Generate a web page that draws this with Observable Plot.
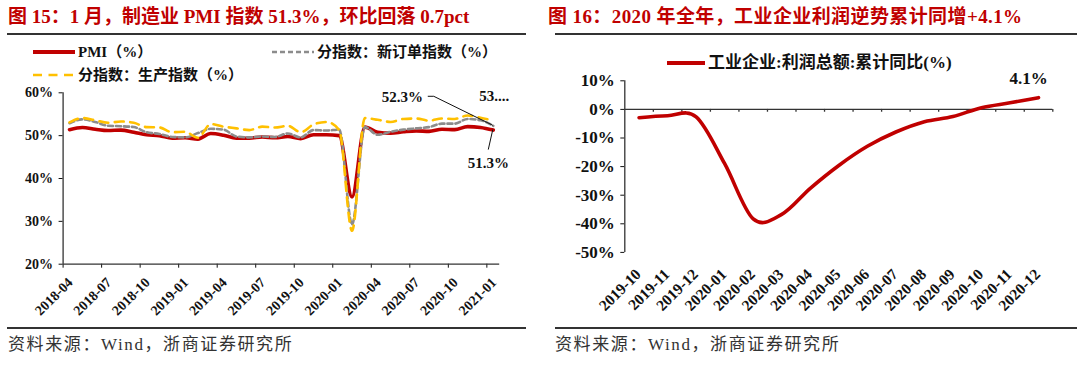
<!DOCTYPE html>
<html><head><meta charset="utf-8">
<script src="https://cdn.jsdelivr.net/npm/d3@7"></script>
<script src="https://cdn.jsdelivr.net/npm/@observablehq/plot@0.6"></script>
<style>
body{margin:0;background:#fff;width:1080px;height:367px;overflow:hidden;position:relative;font-family:"Liberation Serif","Noto Sans CJK SC",serif;}
.abs{position:absolute;white-space:nowrap;}
.title{font-size:19px;font-weight:bold;color:#C00000;line-height:20px;}
.rule{height:0;border-top:2px solid #333;}
.src{font-size:17px;color:#333;line-height:18px;letter-spacing:1.6px;}
.leg{font-size:15px;font-weight:bold;color:#111;display:flex;align-items:center;height:16px;line-height:16px;}
.leg svg{display:block;}
</style></head><body>
<div class="abs title" style="left:8px;top:7px;">图 15：1 月，制造业 PMI 指数 51.3%，环比回落 0.7pct</div>
<div class="abs title" style="left:548px;top:7px;letter-spacing:0.4px;">图 16：2020 年全年，工业企业利润逆势累计同增+4.1%</div>
<div class="abs rule" style="left:7px;top:33px;width:519px;"></div>
<div class="abs rule" style="left:555px;top:33px;width:522px;"></div>
<div class="abs rule" style="left:7px;top:327px;width:519px;"></div>
<div class="abs rule" style="left:555px;top:327px;width:522px;"></div>
<div class="abs src" style="left:8px;top:336px;">资料来源：Wind，浙商证券研究所</div>
<div class="abs src" style="left:555px;top:336px;">资料来源：Wind，浙商证券研究所</div>

<div class="abs leg" style="left:33px;top:44px;"><svg width="42" height="6"><line x1="0" y1="3" x2="42" y2="3" stroke="#C00000" stroke-width="4"/></svg><span style="margin-left:3px">PMI（%）</span></div>
<div class="abs leg" style="left:272px;top:44px;"><svg width="42" height="6"><line x1="0" y1="3" x2="42" y2="3" stroke="#8C8C8C" stroke-width="2.5" stroke-dasharray="5,3"/></svg><span style="margin-left:3px">分指数：新订单指数（%）</span></div>
<div class="abs leg" style="left:33px;top:67px;"><svg width="42" height="6"><line x1="0" y1="3" x2="42" y2="3" stroke="#FFC000" stroke-width="2.5" stroke-dasharray="9,6.5"/></svg><span style="margin-left:3px">分指数：生产指数（%）</span></div>
<div class="abs leg" style="left:667px;top:55px;font-size:17px;"><svg width="38" height="6"><line x1="0" y1="3" x2="38" y2="3" stroke="#C00000" stroke-width="4"/></svg><span style="margin-left:3px">工业企业:利润总额:累计同比(%)</span></div>

<div id="left" class="abs" style="left:0;top:80px;"></div>
<div id="right" class="abs" style="left:540px;top:70px;"></div>

<script>
// ---- Figure 15 data ----
const pmiMonths = ["2018-04","2018-05","2018-06","2018-07","2018-08","2018-09","2018-10","2018-11","2018-12",
  "2019-01","2019-02","2019-03","2019-04","2019-05","2019-06","2019-07","2019-08","2019-09","2019-10","2019-11","2019-12",
  "2020-01","2020-02","2020-03","2020-04","2020-05","2020-06","2020-07","2020-08","2020-09","2020-10","2020-11","2020-12",
  "2021-01"];
const pmi = [51.4,51.9,51.5,51.2,51.3,50.8,50.2,50.0,49.4,
  49.5,49.2,50.5,50.1,49.4,49.4,49.7,49.5,49.8,49.3,50.2,50.2,
  50.0,35.7,52.0,50.8,50.6,50.9,51.1,51.0,51.5,51.4,52.1,51.9,
  51.3];
const newOrders = [52.9,53.8,53.2,52.3,52.2,52.0,50.8,50.4,49.7,
  49.6,50.6,51.6,51.4,49.8,49.6,49.8,49.7,50.5,49.6,51.3,51.2,
  51.4,29.3,52.0,50.2,50.9,51.4,51.7,52.0,52.8,52.8,53.9,53.6,
  52.3];
const production = [53.1,54.1,53.6,53.0,53.3,53.0,52.0,51.9,50.8,
  50.9,49.5,52.7,52.1,51.7,51.3,52.1,51.9,52.3,50.8,52.6,53.2,
  51.3,27.8,54.1,53.7,53.2,53.9,54.0,53.5,54.0,53.9,54.7,54.2,
  53.5];
const pmiYTicks = [20,30,40,50,60];
const pmiXTickLabels = ["2018-04","2018-07","2018-10","2019-01","2019-04","2019-07","2019-10","2020-01","2020-04","2020-07","2020-10","2021-01"];

// ---- Figure 16 data ----
const profitMonths = ["2019-10","2019-11","2019-12","2020-01","2020-02","2020-03","2020-04","2020-05","2020-06","2020-07","2020-08","2020-09","2020-10","2020-11","2020-12"];
const profitYoY = [-2.9,-2.2,-2.6,-19.0,-38.3,-36.7,-27.6,-19.6,-12.9,-7.9,-4.3,-2.5,0.6,2.3,4.1];
const profitYTicks = [10,0,-10,-20,-30,-40,-50];

const FONT = '"Liberation Serif","Noto Sans CJK SC",serif';
const AX = "#333";

// ---------- left chart ----------
const leftData = pmiMonths.map((m, i) => ({i, m, pmi: pmi[i], no: newOrders[i], pr: production[i]}));
const leftTicks = pmiXTickLabels.map(l => pmiMonths.indexOf(l));
const nL = pmiMonths.length - 1;
const lastL = [leftData[nL]];

const left = Plot.plot({
  width: 530, height: 240,
  marginLeft: 62.6, marginRight: 30.8, marginTop: 12.3, marginBottom: 56.3,
  style: {fontFamily: FONT, fontSize: "14px", fontWeight: "bold", color: "#111", background: "transparent", overflow: "visible"},
  x: {domain: [0, pmiMonths.length], ticks: leftTicks, tickFormat: () => "", tickSize: 4, label: null},
  y: {domain: [20, 60], ticks: pmiYTicks, tickFormat: d => d + "%", tickSize: 4, tickPadding: 6, label: null},
  marks: [
    Plot.ruleX([0], {stroke: AX, strokeWidth: 1.3}),
    Plot.ruleY([20], {stroke: AX, strokeWidth: 1.3}),
    Plot.line(leftData, {x: d => d.i + 0.5, y: "pmi", stroke: "#C00000", strokeWidth: 3.6, curve: "monotone-x"}),
    Plot.line(leftData, {x: d => d.i + 0.5, y: "no", stroke: "#8C8C8C", strokeWidth: 2.6, strokeDasharray: "5,3", curve: "monotone-x"}),
    Plot.line(leftData, {x: d => d.i + 0.5, y: "pr", stroke: "#FFC000", strokeWidth: 2.6, strokeDasharray: "9,6.5", curve: "monotone-x"}),
    Plot.text(leftTicks, {x: d => d + 0.5, frameAnchor: "bottom", text: d => pmiMonths[d], rotate: -45, textAnchor: "end", lineAnchor: "top", dx: -3, dy: 12, fontSize: 14, fontWeight: "bold", fill: "#111"}),
    Plot.text(lastL, {x: d => d.i + 0.5, y: "no", text: d => d.no.toFixed(1) + "%", dx: -91, dy: -29, fontSize: 15, fontWeight: "bold", fill: "#111"}),
    Plot.text(lastL, {x: d => d.i + 0.5, y: "pr", text: d => String(d.pr).slice(0, 2) + "....", dx: 1, dy: -24, fontSize: 15, fontWeight: "bold", fill: "#111"}),
    Plot.text(lastL, {x: d => d.i + 0.5, y: "pmi", text: d => d.pmi.toFixed(1) + "%", dx: -5, dy: 33, fontSize: 15, fontWeight: "bold", fill: "#111"})
  ]
});
document.getElementById("left").appendChild(left);
{
  const X = left.scale("x"), Y = left.scale("y");
  const pNO = [X.apply(nL + 0.5), Y.apply(newOrders[nL])];
  const pPMI = [X.apply(nL + 0.5), Y.apply(pmi[nL])];
  const svg = d3.select(left);
  svg.append("path").attr("d", d3.line()([[pNO[0] - 65, pNO[1] - 29], [pNO[0] - 59, pNO[1] - 29], pNO]))
    .attr("fill", "none").attr("stroke", "#111").attr("stroke-width", 1);
  svg.append("path").attr("d", d3.line()([[pPMI[0] - 4.5, pPMI[1] + 20], pPMI]))
    .attr("fill", "none").attr("stroke", "#111").attr("stroke-width", 1);
}

// ---------- right chart ----------
const rightData = profitMonths.map((m, i) => ({i, m, v: profitYoY[i]}));
const nR = profitMonths.length - 1;
const rTickLen = 4 * 60 / 241.6;
const right = Plot.plot({
  width: 540, height: 260,
  marginLeft: 84.3, marginRight: 27.7, marginTop: 10.3, marginBottom: 78.1,
  style: {fontFamily: FONT, fontSize: "17px", fontWeight: "bold", color: "#111", background: "transparent", overflow: "visible"},
  x: {domain: [0, profitMonths.length], axis: null},
  y: {domain: [-50, 10], ticks: profitYTicks, tickFormat: d => d + "%", tickSize: 4, tickPadding: 6, label: null},
  marks: [
    Plot.ruleX([0], {stroke: AX, strokeWidth: 1.3}),
    Plot.ruleY([0], {stroke: AX, strokeWidth: 1.3}),
    Plot.ruleX(d3.range(1, profitMonths.length + 1), {x: d => d, y1: 0, y2: -rTickLen, stroke: AX, strokeWidth: 1.3}),
    Plot.line(rightData, {x: d => d.i + 0.5, y: "v", stroke: "#C00000", strokeWidth: 3.6, curve: d3.curveCatmullRom.alpha(0)}),
    Plot.text(rightData, {x: d => d.i + 0.5, frameAnchor: "bottom", text: "m", rotate: -45, textAnchor: "end", lineAnchor: "top", dx: -5, dy: 15, fontSize: 15.5, fontWeight: "bold", fill: "#111"}),
    Plot.text([rightData[nR]], {x: d => d.i + 0.5, y: "v", text: d => d.v.toFixed(1) + "%", dx: -10, dy: -19, fontSize: 17, fontWeight: "bold", fill: "#111"})
  ]
});
document.getElementById("right").appendChild(right);
</script>
</body></html>
